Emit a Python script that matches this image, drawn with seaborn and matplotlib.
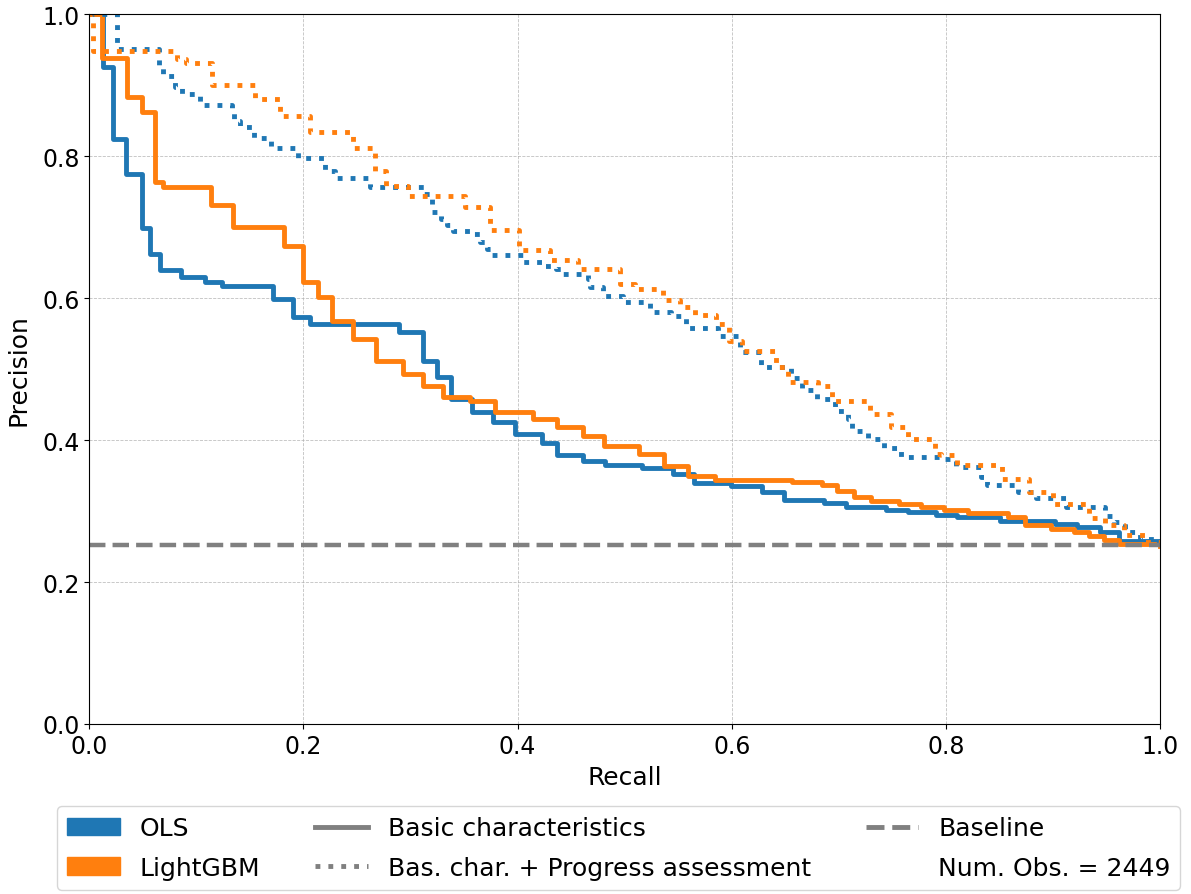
import numpy as np
import pandas as pd
import matplotlib
matplotlib.use("Agg")
import matplotlib.pyplot as plt
import seaborn as sns
from matplotlib.patches import Patch
from matplotlib.lines import Line2D

# Precision-recall step points
ols_basic_recall = [0.000, 0.013, 0.022, 0.034, 0.049, 0.057, 0.066, 0.086, 0.108, 0.124,
                    0.172, 0.190, 0.206, 0.289, 0.312, 0.325, 0.338, 0.357, 0.377, 0.398,
                    0.423, 0.437, 0.461, 0.482, 0.516, 0.545, 0.565, 0.599, 0.628, 0.649,
                    0.686, 0.707, 0.744, 0.765, 0.791, 0.810, 0.851, 0.902, 0.922, 0.944,
                    0.962, 1.000]
ols_basic_precision = [1.000, 0.925, 0.824, 0.775, 0.699, 0.662, 0.640, 0.630, 0.622, 0.617,
                       0.599, 0.573, 0.563, 0.552, 0.511, 0.489, 0.458, 0.439, 0.425, 0.408,
                       0.396, 0.379, 0.370, 0.365, 0.360, 0.352, 0.340, 0.335, 0.327, 0.315,
                       0.311, 0.305, 0.302, 0.299, 0.294, 0.291, 0.286, 0.282, 0.277, 0.270,
                       0.258, 0.254]

lgbm_basic_recall = [0.000, 0.012, 0.035, 0.049, 0.061, 0.069, 0.114, 0.134, 0.182, 0.200,
                     0.214, 0.227, 0.246, 0.268, 0.293, 0.312, 0.330, 0.356, 0.379, 0.414,
                     0.437, 0.461, 0.481, 0.513, 0.537, 0.559, 0.584, 0.656, 0.684, 0.698,
                     0.714, 0.730, 0.756, 0.777, 0.798, 0.821, 0.858, 0.874, 0.898, 0.920,
                     0.934, 0.948, 0.962, 1.000]
lgbm_basic_precision = [1.000, 0.939, 0.883, 0.862, 0.763, 0.756, 0.731, 0.700, 0.673, 0.623,
                        0.601, 0.568, 0.542, 0.511, 0.493, 0.476, 0.461, 0.455, 0.439, 0.430,
                        0.418, 0.406, 0.391, 0.380, 0.364, 0.350, 0.344, 0.341, 0.337, 0.328,
                        0.320, 0.314, 0.310, 0.306, 0.302, 0.297, 0.291, 0.280, 0.275, 0.270,
                        0.265, 0.259, 0.254, 0.251]

ols_prog_recall = [0.000, 0.026, 0.065, 0.069, 0.080, 0.087, 0.103, 0.133, 0.135, 0.141,
                   0.154, 0.170, 0.195, 0.220, 0.229, 0.262, 0.313, 0.320, 0.328, 0.334,
                   0.340, 0.358, 0.365, 0.371, 0.376, 0.405, 0.424, 0.436, 0.442, 0.466,
                   0.468, 0.480, 0.498, 0.524, 0.543, 0.557, 0.587, 0.608, 0.627, 0.655,
                   0.666, 0.680, 0.696, 0.709, 0.712, 0.727, 0.742, 0.758, 0.799, 0.809,
                   0.833, 0.838, 0.867, 0.884, 0.912, 0.949, 0.957, 0.967, 0.981, 0.995,
                   1.000]
ols_prog_precision = [1.000, 0.951, 0.925, 0.913, 0.897, 0.887, 0.872, 0.863, 0.849, 0.841,
                      0.825, 0.811, 0.798, 0.779, 0.769, 0.756, 0.746, 0.721, 0.711, 0.703,
                      0.694, 0.690, 0.679, 0.669, 0.661, 0.651, 0.645, 0.641, 0.634, 0.627,
                      0.615, 0.603, 0.595, 0.580, 0.575, 0.558, 0.546, 0.524, 0.503, 0.487,
                      0.470, 0.458, 0.441, 0.430, 0.413, 0.401, 0.389, 0.376, 0.373, 0.362,
                      0.348, 0.337, 0.327, 0.318, 0.306, 0.293, 0.284, 0.270, 0.261, 0.254,
                      0.252]

lgbm_prog_recall = [0.000, 0.003, 0.082, 0.090, 0.115, 0.155, 0.178, 0.206, 0.246, 0.267,
                    0.277, 0.298, 0.351, 0.374, 0.401, 0.430, 0.456, 0.496, 0.510, 0.536,
                    0.552, 0.566, 0.585, 0.597, 0.610, 0.641, 0.653, 0.681, 0.694, 0.729,
                    0.749, 0.765, 0.790, 0.795, 0.810, 0.852, 0.878, 0.900, 0.934, 0.949,
                    0.966, 0.986, 1.000]
lgbm_prog_precision = [1.000, 0.948, 0.937, 0.931, 0.900, 0.880, 0.856, 0.834, 0.811, 0.779,
                       0.758, 0.744, 0.728, 0.696, 0.668, 0.654, 0.641, 0.620, 0.613, 0.597,
                       0.587, 0.576, 0.563, 0.539, 0.525, 0.503, 0.482, 0.476, 0.455, 0.437,
                       0.418, 0.401, 0.380, 0.379, 0.365, 0.345, 0.327, 0.310, 0.290, 0.280,
                       0.266, 0.256, 0.251]

baseline = 0.252
n_obs = 2449

blue = "#1f77b4"
orange = "#ff7f0e"
grey = "#808080"

curves = [
    (ols_basic_recall, ols_basic_precision, blue, "-"),
    (lgbm_basic_recall, lgbm_basic_precision, orange, "-"),
    (ols_prog_recall, ols_prog_precision, blue, ":"),
    (lgbm_prog_recall, lgbm_prog_precision, orange, ":"),
]

fig, ax = plt.subplots(figsize=(11.91, 8.95), dpi=100)
fig.subplots_adjust(left=0.075, right=0.974, top=0.983, bottom=0.19)

for rec, prec, col, ls in curves:
    d = pd.DataFrame({"Recall": rec, "Precision": prec})
    sns.lineplot(data=d, x="Recall", y="Precision", ax=ax, color=col, linestyle=ls,
                 linewidth=3.5, drawstyle="steps-post", estimator=None, sort=False,
                 legend=False)

ax.axhline(baseline, color=grey, linestyle="--", linewidth=3.2)

ax.set_xlim(0, 1)
ax.set_ylim(0, 1)
ax.set_xticks(np.arange(0, 1.01, 0.2))
ax.set_yticks(np.arange(0, 1.01, 0.2))
ax.grid(True, linestyle="--", linewidth=0.6, color="#b0b0b0", alpha=0.8)
ax.tick_params(labelsize=17)
ax.set_xlabel("Recall", fontsize=18, labelpad=5)
ax.set_ylabel("Precision", fontsize=18, labelpad=8)

handles = [
    Patch(color=blue, label="OLS"),
    Patch(color=orange, label="LightGBM"),
    Line2D([], [], color=grey, linestyle="-", linewidth=3.5, label="Basic characteristics"),
    Line2D([], [], color=grey, linestyle=":", linewidth=3.5, label="Bas. char. + Progress assessment"),
    Line2D([], [], color=grey, linestyle="--", linewidth=3.5, label="Baseline"),
    Line2D([], [], color="none", label=f"Num. Obs. = {n_obs}"),
]
ax.legend(handles=handles, ncol=3, mode="expand", fontsize=18, handlelength=2.1,
          labelspacing=0.62, loc="upper left", bbox_to_anchor=(-0.03, -0.117, 1.049, 0.001),
          borderaxespad=0)

plt.savefig("out.png", dpi=100)
